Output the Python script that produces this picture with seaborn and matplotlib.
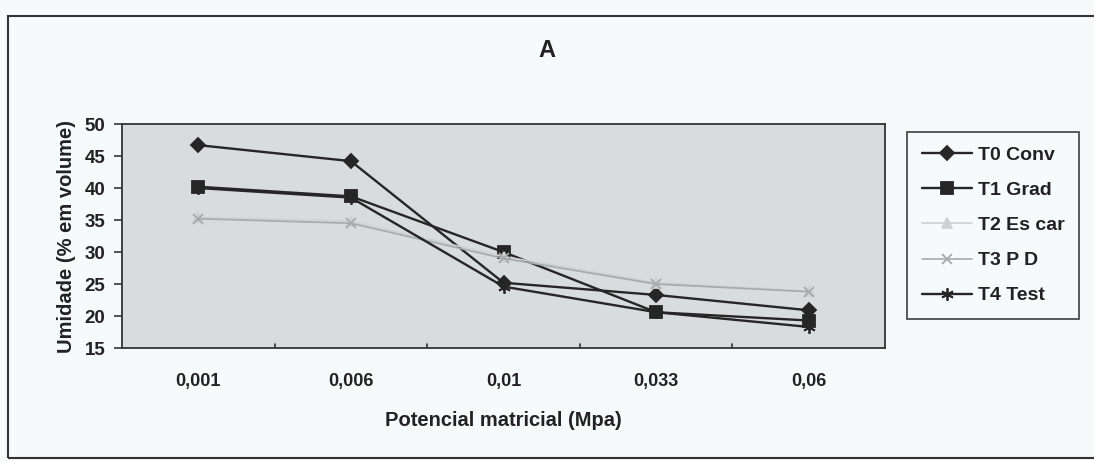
import matplotlib
matplotlib.use("Agg")
import matplotlib.pyplot as plt
import matplotlib.patches as mpatches
import seaborn as sns
import pandas as pd

categories = ["0,001", "0,006", "0,01", "0,033", "0,06"]
t0_conv = [46.7, 44.2, 25.2, 23.3, 20.9]
t1_grad = [40.2, 38.7, 30.0, 20.6, 19.3]
t2_escar = [35.4, 34.8, 29.3, 25.2, 23.9]
t3_pd = [35.2, 34.5, 29.0, 25.0, 23.8]
t4_test = [40.0, 38.5, 24.6, 20.6, 18.3]
series_names = ["T0 Conv", "T1 Grad", "T2 Es car", "T3 P D", "T4 Test"]
series_values = [t0_conv, t1_grad, t2_escar, t3_pd, t4_test]
y_ticks = [15, 20, 25, 30, 35, 40, 45, 50]

rows = []
for name, vals in zip(series_names, series_values):
    for c, v in zip(categories, vals):
        rows.append({"Potencial": c, "Umidade": v, "Serie": name})
df = pd.DataFrame(rows)

sns.set_style("white")
plt.rcParams["font.family"] = ["Liberation Sans", "DejaVu Sans"]
plt.rcParams["font.weight"] = "bold"

fig = plt.figure(figsize=(10.94, 4.61), dpi=100)
fig.patch.set_facecolor("#f6fafa")
ax = fig.add_axes([0.1115, 0.245, 0.6975, 0.486])
ax.set_facecolor("#d9dcdc")

palette = {"T0 Conv": "#262626", "T1 Grad": "#262626", "T2 Es car": "#cdd1d1",
           "T3 P D": "#a6aaaa", "T4 Test": "#262626"}
markers = {"T0 Conv": "D", "T1 Grad": "s", "T2 Es car": "^",
           "T3 P D": "x", "T4 Test": (6, 2, 0)}
sizes = {"T0 Conv": 7.5, "T1 Grad": 8.5, "T2 Es car": 7, "T3 P D": 7, "T4 Test": 9}
widths = {"T0 Conv": 1.7, "T1 Grad": 1.7, "T2 Es car": 1.2, "T3 P D": 1.2, "T4 Test": 1.7}

for name in series_names:
    sub = df[df["Serie"] == name]
    sns.lineplot(data=sub, x="Potencial", y="Umidade", ax=ax, color=palette[name],
                 marker=markers[name], markersize=sizes[name], linewidth=widths[name],
                 markeredgecolor=palette[name], markeredgewidth=1.3,
                 label=name, sort=False)

ax.set_xlim(-0.5, len(categories) - 0.5)
ax.set_ylim(15, 50)
ax.set_yticks(y_ticks)
ax.set_yticklabels([str(t) for t in y_ticks], fontsize=13.5, fontweight="bold", color="#222222")
ax.set_xticks(range(len(categories)))
ax.set_xticklabels(categories, fontsize=13, fontweight="bold", color="#222222")
ax.tick_params(axis="x", length=0, pad=18)
ax.tick_params(axis="y", direction="out", length=6, width=1.2, color="#333333", left=True, pad=6)
for b in [0.5, 1.5, 2.5, 3.5]:
    ax.axvline(b, ymin=0, ymax=0.02, color="#333333", linewidth=1.2)
for sp in ax.spines.values():
    sp.set_color("#333333")
    sp.set_linewidth(1.3)

ax.set_xlabel("Potencial matricial (Mpa)", fontsize=14.5, fontweight="bold", color="#222222", labelpad=15)
ax.set_ylabel("Umidade (% em volume)", fontsize=14.5, fontweight="bold", color="#222222", labelpad=6)
fig.text(0.5, 0.89, "A", ha="center", va="center", fontsize=17, fontweight="bold", color="#222222")

leg = ax.legend(loc="upper left", bbox_to_anchor=(0.829, 0.714), bbox_transform=fig.transFigure,
                frameon=True, fancybox=False, edgecolor="#222222", facecolor="#f6fafa",
                fontsize=14, handlelength=2.6, labelspacing=0.9, borderpad=0.75,
                handletextpad=0.3, borderaxespad=0)
leg.get_frame().set_linewidth(1.3)
for t in leg.get_texts():
    t.set_fontweight("bold")
    t.set_color("#222222")

border = mpatches.Rectangle((0.0073, 0.0065), 1.2, 0.9585, transform=fig.transFigure,
                            fill=False, edgecolor="#333333", linewidth=1.5, clip_on=False)
fig.patches.append(border)

fig.savefig("out.png", dpi=100, facecolor=fig.get_facecolor())
